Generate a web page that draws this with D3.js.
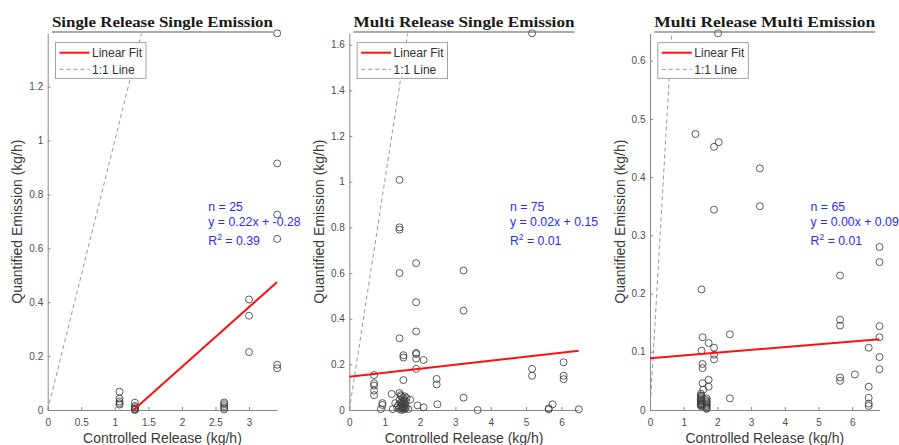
<!DOCTYPE html>
<html>
<head>
<meta charset="utf-8">
<script src="https://cdn.jsdelivr.net/npm/d3@7"></script>
<style>
  html, body { margin: 0; padding: 0; background: #fff; }
  svg { display: block; }
  text { font-family: "Liberation Sans", Arial, sans-serif; }
  text.title { font-family: "Liberation Serif", "DejaVu Serif", serif; font-weight: bold; }
</style>
</head>
<body>
<svg id="chart" width="899" height="445"></svg>
<script>
// ---------- DATA ----------
const titles = ["Single Release Single Emission", "Multi Release Single Emission", "Multi Release Multi Emission"];
const nLabels = ["n = 25", "n = 75", "n = 65"];
const eqLabels = ["y = 0.22x + -0.28", "y = 0.02x + 0.15", "y = 0.00x + 0.09"];
const r2Labels = ["0.39", "0.01", "0.01"];
const fitSlope = [0.222, 0.0175, 0.0048];
const fitIntercept = [-0.284, 0.146, 0.089];

const xTicks1 = [0, 0.5, 1, 1.5, 2, 2.5, 3];
const xTicks2 = [0, 1, 2, 3, 4, 5, 6];
const xTicks3 = [0, 1, 2, 3, 4, 5, 6];
const yTicks1 = [0, 0.2, 0.4, 0.6, 0.8, 1, 1.2];
const yTicks2 = [0, 0.2, 0.4, 0.6, 0.8, 1, 1.2, 1.4, 1.6];
const yTicks3 = [0, 0.1, 0.2, 0.3, 0.4, 0.5, 0.6];

// Panel 1: Single Release Single Emission (controlled, quantified)
const p1x = [1.07,1.07,1.07,1.07,1.07, 1.3,1.3,1.3,1.3,1.3,1.3, 2.63,2.63,2.63,2.63,2.63, 3.0,3.0,3.0, 3.42,3.42,3.42,3.42,3.42,3.42];
const p1y = [0.068,0.042,0.032,0.025,0.02, 0.027,0.015,0.01,0.005,0.002,0, 0.028,0.022,0.015,0.008,0.002, 0.41,0.35,0.215, 1.398,0.915,0.725,0.635,0.168,0.155];

// Panel 2: Multi Release Single Emission
const p2x = [5.17,1.42,1.42,1.42,1.42,1.42,1.89,1.89,1.89,1.89,1.89,1.89,1.89,2.10,1.53,1.53,1.53,3.23,3.23,3.23,
             2.47,2.47,2.49,3.63,5.17,5.17,6.06,6.06,6.06,5.64,5.64,5.75,6.49,0.70,0.70,0.70,0.70,0.70,0.935,0.935,
             0.89,1.20,1.23,1.30,1.42,1.72,1.67,1.93,2.10,
             1.38,1.40,1.42,1.45,1.45,1.47,1.48,1.48,1.50,1.50,1.50,1.52,1.52,1.53,1.53,1.55,1.55,1.55,1.57,1.57,1.58,1.60,1.60,1.62,1.45,1.35];
const p2y = [1.65,1.008,0.80,0.79,0.60,0.314,0.643,0.472,0.344,0.25,0.245,0.225,0.18,0.219,0.24,0.23,0.131,0.611,0.435,0.054,
             0.136,0.112,0.025,0.0,0.18,0.15,0.209,0.15,0.135,0.007,0.003,0.025,0.003,0.153,0.117,0.107,0.085,0.065,0.03,0.022,
             0.004,0.07,0.004,0.03,0.074,0.045,0.004,0.02,0.012,
             0.02,0.005,0.045,0.01,0.03,0.06,0.0,0.015,0.04,0.025,0.008,0.055,0.018,0.003,0.035,0.012,0.028,0.045,0.06,0.005,0.02,0.038,0.01,0.052,0.065,0.012];

// Panel 3: Multi Release Multi Emission
const p3x = [2.02,1.35,1.90,2.04,1.90,3.26,3.26,1.53,1.56,1.53,1.56,1.56,1.74,1.90,1.90,1.90,2.37,2.37,1.74,1.74,
             1.56,1.58,5.64,5.64,5.64,5.64,5.64,6.08,6.49,6.49,6.49,6.49,6.49,6.81,6.81,6.81,6.81,6.81,6.81,
             1.51,1.51,1.51,1.51,1.51,1.51,1.51,1.51,1.51,1.51,1.51,1.51,1.53,1.53,1.53,1.53,
             1.68,1.68,1.68,1.68,1.68,1.68,1.68,1.68,1.68,1.68];
const p3y = [0.647,0.474,0.452,0.46,0.344,0.415,0.350,0.207,0.125,0.102,0.079,0.072,0.115,0.107,0.095,0.087,0.130,0.020,0.052,0.040,
             0.046,0.035,0.231,0.155,0.145,0.056,0.050,0.061,0.107,0.040,0.021,0.011,0.007,0.280,0.254,0.144,0.125,0.091,0.070,
             0.028,0.025,0.022,0.02,0.018,0.016,0.014,0.012,0.011,0.01,0.009,0.008,0.024,0.015,0.01,0.006,
             0.02,0.017,0.015,0.013,0.011,0.009,0.007,0.005,0.003,0.002];

// ---------- LAYOUT ----------
const panelLeft = [47.7, 349.3, 650];
const panelWidth = 229.5;
const axTop = 33.3, axBottom = 410;
const lineColor = "#8a8a8a", textColor = "#4d4d4d";
const blue = "#2a2aff";

const svg = d3.select("#chart");
svg.append("rect").attr("width", 899).attr("height", 445).attr("fill", "#fff");

const panels = [
  {xs: p1x, ys: p1y, xt: xTicks1, yt: yTicks1},
  {xs: p2x, ys: p2y, xt: xTicks2, yt: yTicks2},
  {xs: p3x, ys: p3y, xt: xTicks3, yt: yTicks3}
];
const fmt = d3.format("~g");

panels.forEach((p, i) => {
  const L = panelLeft[i];
  const x = d3.scaleLinear().domain([0, d3.max(p.xs)]).range([L, L + panelWidth]);
  const y = d3.scaleLinear().domain([0, d3.max(p.ys)]).range([axBottom, axTop]);
  const g = svg.append("g");

  const clipId = "clip" + i;
  svg.append("clipPath").attr("id", clipId).append("rect")
    .attr("x", L).attr("y", axTop).attr("width", panelWidth).attr("height", axBottom - axTop);

  // axes
  const xa = g.append("g").attr("transform", `translate(0,${axBottom})`)
    .call(d3.axisBottom(x).tickValues(p.xt).tickFormat(fmt).tickSize(-3).tickSizeOuter(0).tickPadding(9));
  const ya = g.append("g").attr("transform", `translate(${L},0)`)
    .call(d3.axisLeft(y).tickValues(p.yt).tickFormat(fmt).tickSize(-3).tickSizeOuter(0).tickPadding(4.5));
  [xa, ya].forEach(a => {
    a.select(".domain").attr("stroke", lineColor).attr("stroke-width", 1);
    a.selectAll(".tick line").attr("stroke", lineColor);
    a.selectAll(".tick text").attr("fill", textColor).attr("font-size", 10)
      .style("font-family", "'Liberation Sans', Arial, sans-serif");
  });

  // 1:1 line
  const ymax = d3.max(p.ys);
  g.append("line").attr("clip-path", `url(#${clipId})`)
    .attr("x1", x(0)).attr("y1", y(0)).attr("x2", x(ymax)).attr("y2", y(ymax))
    .attr("stroke", "#8c8c8c").attr("stroke-width", 0.9).attr("stroke-dasharray", "4,3");

  // points
  g.append("g").selectAll("circle").data(p.xs.map((v, k) => [v, p.ys[k]])).join("circle")
    .attr("cx", d => x(d[0])).attr("cy", d => y(d[1])).attr("r", 3.5)
    .attr("fill", "none").attr("stroke", "#404040").attr("stroke-width", 0.85);

  // fit line
  const xd = x.domain();
  g.append("line").attr("clip-path", `url(#${clipId})`)
    .attr("x1", x(xd[0])).attr("y1", y(fitSlope[i] * xd[0] + fitIntercept[i]))
    .attr("x2", x(xd[1])).attr("y2", y(fitSlope[i] * xd[1] + fitIntercept[i]))
    .attr("stroke", "#ff1010").attr("stroke-width", 2);

  // title with underline
  const cx = L + panelWidth / 2;
  g.append("text").attr("class", "title").attr("x", cx).attr("y", 26.5).attr("text-anchor", "middle")
    .attr("font-size", 15.5).attr("fill", "#1a1a1a").attr("textLength", 221).attr("lengthAdjust", "spacingAndGlyphs")
    .text(titles[i]);
  g.append("line").attr("x1", cx - 110.5).attr("x2", cx + 110.5).attr("y1", 32).attr("y2", 32)
    .attr("stroke", "#555").attr("stroke-width", 1);

  // axis labels
  g.append("text").attr("x", cx).attr("y", 443).attr("text-anchor", "middle")
    .attr("font-size", 14).attr("fill", "#3a3a3a").text("Controlled Release (kg/h)");
  g.append("text").attr("transform", `translate(${L - 25.5},${(axTop + axBottom) / 2}) rotate(-90)`)
    .attr("text-anchor", "middle").attr("font-size", 14).attr("fill", "#3a3a3a").text("Quantified Emission (kg/h)");

  // legend
  const lx = L + 7.8, ly = 42.7;
  const leg = g.append("g");
  leg.append("rect").attr("x", lx).attr("y", ly).attr("width", 90.5).attr("height", 35.6)
    .attr("fill", "#fff").attr("stroke", "#8a8a8a").attr("stroke-width", 0.8);
  leg.append("line").attr("x1", lx + 4).attr("x2", lx + 34).attr("y1", ly + 10).attr("y2", ly + 10)
    .attr("stroke", "#ff1010").attr("stroke-width", 2);
  leg.append("text").attr("x", lx + 36.5).attr("y", ly + 14.3).attr("font-size", 12).attr("fill", "#333").text("Linear Fit");
  leg.append("line").attr("x1", lx + 4).attr("x2", lx + 34).attr("y1", ly + 26.6).attr("y2", ly + 26.6)
    .attr("stroke", "#8c8c8c").attr("stroke-width", 0.9).attr("stroke-dasharray", "4,3");
  leg.append("text").attr("x", lx + 36.5).attr("y", ly + 31).attr("font-size", 12).attr("fill", "#333").text("1:1 Line");

  // annotation
  const ax = L + 160.6;
  g.append("text").attr("x", ax).attr("y", 211).attr("font-size", 12.3).attr("fill", blue).text(nLabels[i]);
  g.append("text").attr("x", ax).attr("y", 226.3).attr("font-size", 12.3).attr("fill", blue).text(eqLabels[i]);
  const r = g.append("text").attr("x", ax).attr("y", 244.5).attr("font-size", 12.3).attr("fill", blue);
  r.append("tspan").text("R");
  r.append("tspan").attr("font-size", 8.5).attr("dy", -5).text("2");
  r.append("tspan").attr("dy", 5).text(" = " + r2Labels[i]);
});
</script>
</body>
</html>
